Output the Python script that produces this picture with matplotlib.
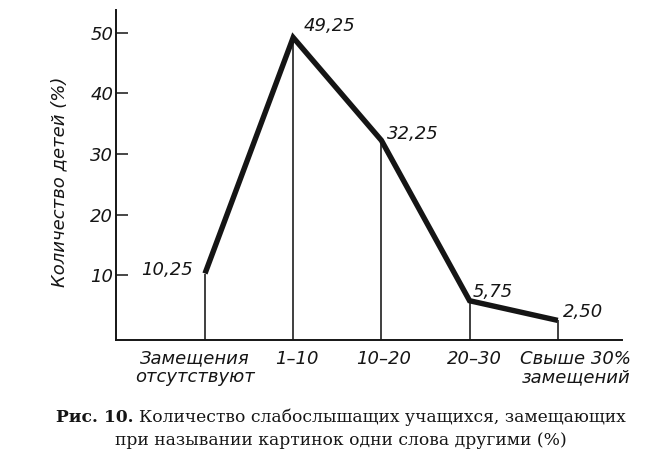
import numpy as np
import matplotlib
matplotlib.use("Agg")
import matplotlib.pyplot as plt
import matplotlib.transforms as mtransforms

# data
categories = ["Замещения\nотсутствуют", "1–10", "10–20", "20–30", "Свыше 30%\nзамещений"]
values = [10.25, 49.25, 32.25, 5.75, 2.50]
value_labels = ["10,25", "49,25", "32,25", "5,75", "2,50"]
yticks = [10, 20, 30, 40, 50]

# label placement (pixels)
label_offsets = [(-12, 4), (10, 12), (6, 6), (3, 9), (5, 8)]
label_ha = ["right", "left", "left", "left", "left"]
cat_shift = [-10, 4, 2, 5, 18]

W, H = 662, 475
fig = plt.figure(figsize=(W / 100, H / 100), dpi=100)
ax = fig.add_axes([116 / W, 1 - 340 / H, (622 - 116) / W, (340 - 10) / H])

x = np.arange(len(values))
ymin, ymax = -0.74, 53.8

ax.vlines(x, ymin, values, color="#151515", lw=1.15)
ax.plot(x, values, color="#151515", lw=3.9, solid_joinstyle="miter", solid_capstyle="butt")

for xi, v, lab, off, ha in zip(x, values, value_labels, label_offsets, label_ha):
    ax.annotate(lab, (xi, v), xytext=off, textcoords="offset pixels",
                ha=ha, va="center", fontsize=13, style="italic", color="#151515")

ax.set_xlim(-1.009, 4.728)
ax.set_ylim(ymin, ymax)

for s in ["top", "right"]:
    ax.spines[s].set_visible(False)
for s in ["left", "bottom"]:
    ax.spines[s].set_linewidth(1.4)
    ax.spines[s].set_color("#151515")

ax.set_yticks(yticks)
ax.set_yticklabels([str(t) for t in yticks], fontsize=13, style="italic", color="#151515")
ax.tick_params(axis="y", direction="in", length=8.6, width=1.1, pad=2, color="#151515")

ax.set_xticks(x)
ax.set_xticklabels(categories, fontsize=13, style="italic", color="#151515", linespacing=1.05)
ax.tick_params(axis="x", length=0, pad=7)
for lab, dx in zip(ax.get_xticklabels(), cat_shift):
    lab.set_transform(lab.get_transform() + mtransforms.ScaledTranslation(dx / 100, 0, fig.dpi_scale_trans))

fig.text(59 / W, 1 - 182 / H, "Количество детей (%)", rotation=90, ha="center", va="center",
         fontsize=13, style="italic", color="#151515")

# caption with bold prefix
r = fig.canvas.get_renderer()
cap_font = dict(family="DejaVu Serif", fontsize=12.3, color="#151515")
t1 = fig.text(0, 1 - 422 / H, "Рис. 10. ", weight="bold", va="baseline", **cap_font)
t2 = fig.text(0, 1 - 422 / H, "Количество слабослышащих учащихся, замещающих", va="baseline", **cap_font)
w1 = t1.get_window_extent(r).width
w2 = t2.get_window_extent(r).width
x0 = 341 - (w1 + w2) / 2
t1.set_x(x0 / W)
t2.set_x((x0 + w1) / W)
fig.text(341 / W, 1 - 445 / H, "при назывании картинок одни слова другими (%)", ha="center",
         va="baseline", **cap_font)

fig.savefig("out.png", dpi=100)
